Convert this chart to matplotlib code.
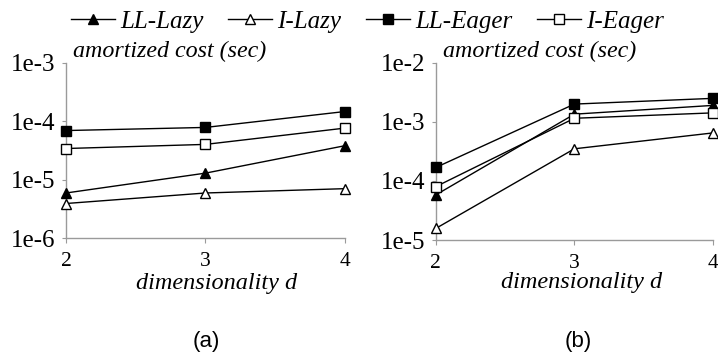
import matplotlib
matplotlib.use("Agg")
import matplotlib.pyplot as plt
from matplotlib.lines import Line2D

# Dimensionality values on the x axis
dims = [2, 3, 4]

# Panel (a): amortized cost in seconds
a_ll_lazy = [5.9e-6, 1.29e-5, 3.8e-5]
a_i_lazy = [3.9e-6, 5.9e-6, 7.0e-6]
a_ll_eager = [6.9e-5, 7.8e-5, 1.46e-4]
a_i_eager = [3.4e-5, 4.0e-5, 7.6e-5]

# Panel (b): amortized cost in seconds
b_ll_lazy = [5.8e-5, 1.35e-3, 1.9e-3]
b_i_lazy = [1.57e-5, 3.5e-4, 6.5e-4]
b_ll_eager = [1.69e-4, 2.0e-3, 2.5e-3]
b_i_eager = [8.0e-5, 1.15e-3, 1.42e-3]

series_names = ["LL-Lazy", "I-Lazy", "LL-Eager", "I-Eager"]
a_ticks = [1e-6, 1e-5, 1e-4, 1e-3]
a_tick_labels = ["1e-6", "1e-5", "1e-4", "1e-3"]
b_ticks = [1e-5, 1e-4, 1e-3, 1e-2]
b_tick_labels = ["1e-5", "1e-4", "1e-3", "1e-2"]

styles = [
    dict(marker="^", mfc="black"),
    dict(marker="^", mfc="white"),
    dict(marker="s", mfc="black"),
    dict(marker="s", mfc="white"),
]

SERIF = ["Liberation Serif", "DejaVu Serif"]
SANS = ["Liberation Sans", "DejaVu Sans"]
AXIS_GREY = "#9a9a9a"

fig = plt.figure(figsize=(7.18, 3.58), dpi=100)


def draw_panel(rect, series, ticks, tick_labels, tag, tag_x, xlab_pos):
    ax = fig.add_axes(rect)
    for vals, st in zip(series, styles):
        ax.plot(dims, vals, color="black", lw=1.0, marker=st["marker"],
                mfc=st["mfc"], mec="black", mew=1.0, ms=7.5, clip_on=False,
                zorder=3)
    ax.set_yscale("log")
    ax.set_ylim(ticks[0], ticks[-1])
    ax.set_xlim(2, 4)
    ax.set_yticks(ticks)
    ax.set_yticklabels(tick_labels)
    ax.minorticks_off()
    ax.set_xticks(dims)
    ax.set_xticklabels([str(d) for d in dims])
    for lab in ax.get_yticklabels():
        lab.set_family(SERIF)
        lab.set_fontsize(18)
    for lab in ax.get_xticklabels():
        lab.set_family(SERIF)
        lab.set_fontsize(15.5)
    for s in ("top", "right"):
        ax.spines[s].set_visible(False)
    for s in ("left", "bottom"):
        ax.spines[s].set_color(AXIS_GREY)
        ax.spines[s].set_linewidth(1.0)
    ax.tick_params(axis="y", direction="out", length=3, color=AXIS_GREY,
                   pad=4.5)
    ax.tick_params(axis="x", direction="out", length=3.5, color=AXIS_GREY,
                   pad=6.5)
    ax.set_xlabel("dimensionality d", family=SERIF, style="italic",
                  fontsize=17.5)
    ax.xaxis.set_label_coords(*xlab_pos)
    ax.xaxis.label.set_va("center")
    ax.text(0.025, 1.005, "amortized cost (sec)", transform=ax.transAxes,
            family=SERIF, style="italic", fontsize=17.3, ha="left",
            va="bottom")
    fig.text(tag_x, 0.045, tag, family=SANS, fontsize=16, ha="center",
             va="center")
    return ax


draw_panel([0.0919, 0.335, 0.3886, 0.49],
           [a_ll_lazy, a_i_lazy, a_ll_eager, a_i_eager],
           a_ticks, a_tick_labels, "(a)", 0.288, (0.538, -0.257))
draw_panel([0.607, 0.3296, 0.386, 0.495],
           [b_ll_lazy, b_i_lazy, b_ll_eager, b_i_eager],
           b_ticks, b_tick_labels, "(b)", 0.806, (0.527, -0.2425))

handles = [Line2D([], [], color="black", lw=1.0, marker=st["marker"],
                  mfc=st["mfc"], mec="black", ms=7.5)
           for st in styles]
fig.legend(handles, series_names, loc="center", bbox_to_anchor=(0.512, 0.939),
           ncol=4, frameon=False, handlelength=1.75, handletextpad=0.2,
           columnspacing=1.0, borderpad=0.1,
           prop=dict(family=SERIF, style="italic", size=18))

fig.savefig("out.png", dpi=100)
